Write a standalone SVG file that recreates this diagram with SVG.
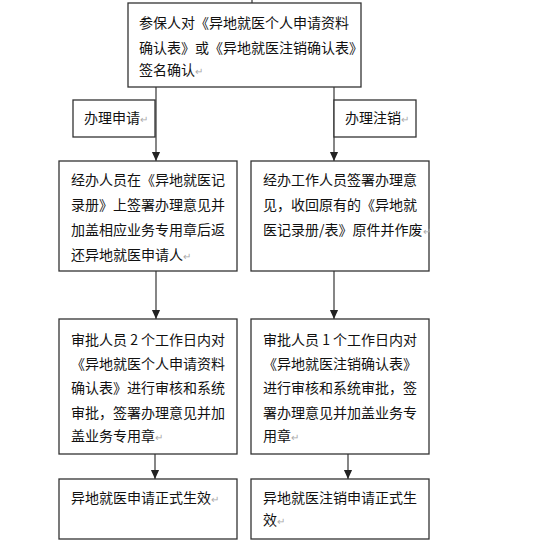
<svg xmlns="http://www.w3.org/2000/svg" width="537" height="549" viewBox="0 0 537 549">
<style>
.box{fill:#fff;stroke:#333;stroke-width:1.3}
.t{font-family:"Noto Sans CJK SC","Noto Sans",sans-serif;font-size:14px;fill:#111}
.pm{fill:#aaa;font-size:10px}
.ln{stroke:#444;stroke-width:1.3;fill:none}
</style>
<defs>
<marker id="arr" markerUnits="userSpaceOnUse" markerWidth="10" markerHeight="12" refX="11" refY="5" orient="auto" viewBox="0 0 12 10">
<path d="M0,0 L11,5 L0,10 Z" fill="#222"/>
</marker>
</defs>
<rect width="537" height="549" fill="#fff"/>
<g id="connectors">
<line class="ln" x1="252" y1="0" x2="252" y2="3"/>
<line class="ln" x1="156" y1="87" x2="156" y2="161" marker-end="url(#arr)"/>
<line class="ln" x1="334" y1="87" x2="334" y2="161" marker-end="url(#arr)"/>
<line class="ln" x1="156" y1="271" x2="156" y2="319" marker-end="url(#arr)"/>
<line class="ln" x1="334" y1="271" x2="334" y2="319" marker-end="url(#arr)"/>
<line class="ln" x1="155" y1="454" x2="155" y2="479" marker-end="url(#arr)"/>
<line class="ln" x1="348" y1="454" x2="348" y2="479" marker-end="url(#arr)"/>
</g>
<g id="n_top">
<rect class="box" x="128" y="3" width="233" height="84"/>
<text class="t" x="139" y="28">参保人对《异地就医个人申请资料</text>
<text class="t" x="139" y="53">确认表》或《异地就医注销确认表》</text>
<text class="t" x="139" y="75">签名确认<tspan class="pm">↵</tspan></text>
</g>
<g id="n_label_apply">
<rect class="box" x="73" y="100" width="82" height="37"/>
<text class="t" x="84" y="123">办理申请<tspan class="pm">↵</tspan></text>
</g>
<g id="n_label_cancel">
<rect class="box" x="334" y="100" width="82" height="37"/>
<text class="t" x="345" y="123">办理注销<tspan class="pm">↵</tspan></text>
</g>
<g id="n_left2">
<rect class="box" x="59" y="161" width="178" height="110"/>
<text class="t" x="71" y="185">经办人员在《异地就医记</text>
<text class="t" x="71" y="210">录册》上签署办理意见并</text>
<text class="t" x="71" y="235">加盖相应业务专用章后返</text>
<text class="t" x="71" y="260">还异地就医申请人<tspan class="pm">↵</tspan></text>
</g>
<g id="n_right2">
<rect class="box" x="251" y="161" width="178" height="110"/>
<text class="t" x="263" y="185">经办工作人员签署办理意</text>
<text class="t" x="263" y="210">见，收回原有的《异地就</text>
<text class="t" x="263" y="235">医记录册/表》原件并作废<tspan class="pm">↵</tspan></text>
</g>
<g id="n_left3">
<rect class="box" x="59" y="319" width="178" height="135"/>
<text class="t" x="71" y="345">审批人员 2 个工作日内对</text>
<text class="t" x="71" y="369">《异地就医个人申请资料</text>
<text class="t" x="71" y="393">确认表》进行审核和系统</text>
<text class="t" x="71" y="418">审批，签署办理意见并加</text>
<text class="t" x="71" y="441">盖业务专用章<tspan class="pm">↵</tspan></text>
</g>
<g id="n_right3">
<rect class="box" x="251" y="319" width="178" height="135"/>
<text class="t" x="263" y="345">审批人员 1 个工作日内对</text>
<text class="t" x="263" y="369">《异地就医注销确认表》</text>
<text class="t" x="263" y="393">进行审核和系统审批，签</text>
<text class="t" x="263" y="418">署办理意见并加盖业务专</text>
<text class="t" x="263" y="441">用章<tspan class="pm">↵</tspan></text>
</g>
<g id="n_left4">
<rect class="box" x="59" y="479" width="178" height="60"/>
<text class="t" x="71" y="503">异地就医申请正式生效<tspan class="pm">↵</tspan></text>
</g>
<g id="n_right4">
<rect class="box" x="251" y="479" width="178" height="60"/>
<text class="t" x="263" y="503">异地就医注销申请正式生</text>
<text class="t" x="263" y="525">效<tspan class="pm">↵</tspan></text>
</g>
</svg>
